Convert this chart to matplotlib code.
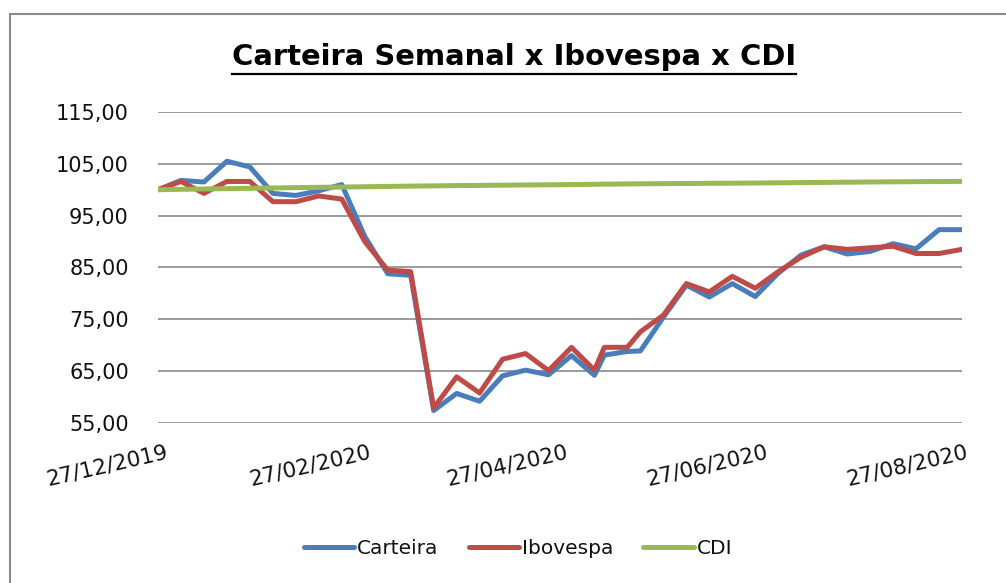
import matplotlib
matplotlib.use("Agg")
import matplotlib.pyplot as plt
from matplotlib.lines import Line2D
from matplotlib.transforms import ScaledTranslation
import pandas as pd

# ---------------- data ----------------
dates = [
    "2019-12-27", "2020-01-03", "2020-01-10", "2020-01-17", "2020-01-24", "2020-01-31",
    "2020-02-07", "2020-02-14", "2020-02-21", "2020-02-28", "2020-03-06", "2020-03-13",
    "2020-03-20", "2020-03-27", "2020-04-03", "2020-04-10", "2020-04-17", "2020-04-24",
    "2020-05-01", "2020-05-08", "2020-05-11", "2020-05-18", "2020-05-22", "2020-05-29",
    "2020-06-05", "2020-06-12", "2020-06-19", "2020-06-26", "2020-07-03", "2020-07-10",
    "2020-07-17", "2020-07-24", "2020-07-31", "2020-08-07", "2020-08-14", "2020-08-21",
    "2020-08-28",
]
carteira = [
    100.0, 101.8, 101.5, 105.5, 104.4, 99.3, 98.9, 99.8, 101.0, 91.0, 83.8, 83.5,
    57.4, 60.7, 59.2, 64.1, 65.2, 64.3, 68.0, 64.2, 68.1, 68.8, 68.9, 75.4,
    81.6, 79.3, 81.9, 79.4, 83.9, 87.4, 89.0, 87.6, 88.1, 89.6, 88.6, 92.3,
    92.3,
]
ibovespa = [
    100.0, 101.6, 99.3, 101.6, 101.6, 97.7, 97.7, 98.8, 98.2, 90.0, 84.5, 84.2,
    57.9, 63.9, 60.8, 67.3, 68.4, 65.1, 69.6, 65.2, 69.6, 69.6, 72.6, 75.8,
    81.9, 80.3, 83.3, 81.0, 84.2, 87.0, 89.0, 88.5, 88.8, 89.1, 87.7, 87.7,
    88.5,
]
cdi = [
    100.00, 100.08, 100.15, 100.22, 100.28, 100.35, 100.41, 100.47, 100.52, 100.58,
    100.64, 100.70, 100.75, 100.80, 100.84, 100.88, 100.92, 100.96, 101.00, 101.05,
    101.08, 101.12, 101.15, 101.18, 101.21, 101.24, 101.27, 101.30, 101.34, 101.38,
    101.42, 101.46, 101.50, 101.53, 101.56, 101.59, 101.62,
]
series_names = ["Carteira", "Ibovespa", "CDI"]
series_colors = ["#4A7EBB", "#BE4B48", "#98B954"]

y_ticks = [55, 65, 75, 85, 95, 105, 115]
y_tick_labels = ["55,00", "65,00", "75,00", "85,00", "95,00", "105,00", "115,00"]
x_tick_dates = ["2019-12-27", "2020-02-27", "2020-04-27", "2020-06-27", "2020-08-27"]
x_tick_labels = ["27/12/2019", "27/02/2020", "27/04/2020", "27/06/2020", "27/08/2020"]
title = "Carteira Semanal x Ibovespa x CDI"

# ---------------- figure ----------------
W, H, DPI = 1006, 583, 100
fig = plt.figure(figsize=(W / DPI, H / DPI), dpi=DPI)
fig.patch.set_facecolor("white")
FONT = "DejaVu Sans"
FS = 15

L, R, B, T = 158, 962, 423, 112
ax = fig.add_axes([L / W, 1 - B / H, (R - L) / W, (B - T) / H])

x = pd.to_datetime(dates)
for vals, name, col in zip([carteira, ibovespa, cdi], series_names, series_colors):
    ax.plot(x, vals, color=col, lw=3.6, label=name, solid_joinstyle="round",
            solid_capstyle="round", zorder=3)

ax.set_ylim(55, 115)
ax.set_xlim(x[0], x[-1])
ax.set_yticks(y_ticks)
ax.set_yticklabels(y_tick_labels, fontsize=FS, family=FONT, color="#111111")
ax.yaxis.grid(True, color="#8a8a8a", lw=1.2)
ax.set_axisbelow(True)
for s in ax.spines.values():
    s.set_visible(False)
ax.tick_params(axis="y", length=0, pad=21)
ax.tick_params(axis="x", length=0, pad=14)

xt = pd.to_datetime(x_tick_dates)
ax.set_xticks(xt)
ax.set_xticklabels(x_tick_labels, fontsize=15.5, family=FONT, color="#111111",
                   rotation=13, ha="right", va="top", rotation_mode="anchor")
off = ScaledTranslation(7 / DPI, 0, fig.dpi_scale_trans)
for lab in ax.get_xticklabels():
    lab.set_transform(lab.get_transform() + off)

# title with underline
t = fig.text(514 / W, 1 - 57 / H, title, ha="center", va="center",
             fontsize=20, fontweight="bold", family=FONT, color="#000000")
fig.canvas.draw()
bb = t.get_window_extent()
target_w = 565
t.set_fontsize(20 * target_w / bb.width)
fig.canvas.draw()
bb = t.get_window_extent()
uy = bb.y0 - 3
fig.add_artist(Line2D([bb.x0 / W, bb.x1 / W], [uy / H, uy / H], color="#000000", lw=1.6,
                      transform=fig.transFigure))

# chart border
fig.add_artist(Line2D([10 / W, 10 / W], [0, 1 - 14 / H], color="#8c8c8c", lw=1.5,
                      transform=fig.transFigure))
fig.add_artist(Line2D([10 / W, 1], [1 - 14 / H, 1 - 14 / H], color="#8c8c8c", lw=1.5,
                      transform=fig.transFigure))

# legend
handles = [Line2D([], [], color=c, lw=3.6, solid_capstyle="round") for c in series_colors]
leg = fig.legend(handles, series_names, loc="center", bbox_to_anchor=(518 / W, 1 - 549 / H),
                 ncol=3, frameon=False, handlelength=2.5, handletextpad=0.15,
                 columnspacing=1.5, prop={"family": FONT, "size": 14.5})
for txt in leg.get_texts():
    txt.set_color("#111111")

fig.savefig("out.png", dpi=DPI)
